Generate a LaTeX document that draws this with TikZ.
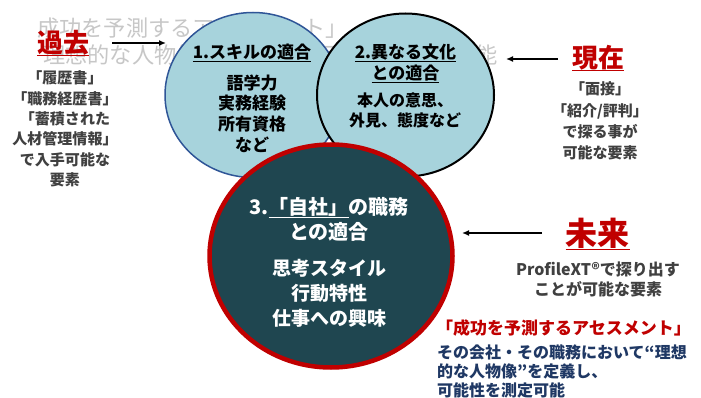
\documentclass[tikz,border=0pt]{standalone}
\usepackage{fontspec}
\setmainfont{Noto Sans CJK JP}
\usepackage{tikz}
\usetikzlibrary{shapes.geometric, arrows.meta}

\definecolor{redtext}{HTML}{C00000}
\definecolor{greytext}{HTML}{404040}
\definecolor{navytext}{HTML}{1F3864}
\definecolor{skyfill}{HTML}{A7D3DC}
\definecolor{skyline}{HTML}{2F5597}
\definecolor{deepteal}{HTML}{1F4650}

\newcommand{\fs}[2]{\fontsize{#1pt}{#2pt}\selectfont}
\newcommand{\ulin}[1]{\setbox0=\hbox{#1}\rlap{\rule[-0.16em]{\wd0}{1.1pt}}\box0}

\begin{document}
\begin{tikzpicture}[x=1pt, y=-1pt,
    blob/.style={ellipse, draw, inner sep=0pt},
    txt/.style 2 args={inner sep=0pt, align=center, font=\bfseries\fs{#1}{#2}},
    ghost/.style={inner sep=0pt, anchor=west, text=black!22, font=\fs{22.2}{27}},
    tip/.style={-{Latex[length=7pt,width=6pt]}, line width=1.4pt}]
          \fill [white] (0,0) rectangle (701,398);
          \useasboundingbox (0,0) rectangle (701,398);
          \node [ghost] (ghostA) at (37,28) {成功を予測するアセスメント」};
          \node [ghost] (ghostB) at (43,55) {理想的な人物像”を定義し、可能性を測定可能};
          \node [blob, fill=skyfill, draw=skyline, line width=1.5pt, minimum width=176, minimum height=165] (skill) at (253,95) {};
          \node [blob, fill=skyfill, line width=2pt, minimum width=177, minimum height=163] (culture) at (405.5,95) {};
          \node [blob, fill=deepteal, draw=redtext, line width=4.5pt, minimum width=243, minimum height=223] (own) at (331,256) {};
          \node [txt={17}{21}] (skillT) at (252,53) {\ulin{1.スキルの適合}};
          \node [txt={17}{20.6}] (skillB) at (252,113.5) {語学力\\実務経験\\所有資格\\など};
          \node [txt={17}{21}] (cultureT) at (405.5,63.5) {\ulin{2.異なる文化}\\\ulin{との適合}};
          \node [txt={16}{20}] (cultureB) at (405,110) {本人の意思、\\外見、態度など};
          \node [txt={20}{25}, text=white] (ownT) at (329,219.5) {3.\ulin{「自社」}の職務\\との適合};
          \node [txt={19}{25}, text=white] (ownB) at (329,293) {思考スタイル\\行動特性\\仕事への興味};
          \node [txt={26}{26}, text=redtext] (past) at (63,43) {\ulin{過去}};
          \node [txt={15}{20.4}, text=greytext] (pastB) at (65,129) {「履歴書」\\「職務経歴書」\\「蓄積された\\人材管理情報」\\で入手可能な\\要素};
          \node [txt={26}{26}, text=redtext] (now) at (598,58) {\ulin{現在}};
          \node [txt={15}{21.3}, text=greytext] (nowB) at (600,121) {「面接」\\「紹介/評判」\\で探る事が\\可能な要素};
          \node [txt={32}{32}, text=redtext] (future) at (597.5,234) {\ulin{未来}};
          \node [txt={16}{19.5}, text=greytext] (futureB) at (598,279.5) {ProfileXT®で探り出す\\ことが可能な要素};
          \node [txt={17}{20}, text=redtext, anchor=west] (assess) at (436,328) {「成功を予測するアセスメント」};
          \node [txt={16}{19}, text=navytext, anchor=west, align=left] (assessB) at (437,371) {その会社・その職務において“理想\\的な人物像”を定義し、\\可能性を測定可能};
          \coordinate (pastA) at (112,43);
          \coordinate (pastZ) at (166,43);
          \coordinate (nowA) at (558,59);
          \coordinate (nowZ) at (506,59);
          \coordinate (futureA) at (542,233);
          \coordinate (futureZ) at (462,233);
          \draw [tip] (pastA) -- (pastZ);
          \draw [tip] (nowA) -- (nowZ);
          \draw [tip] (futureA) -- (futureZ);
        \end{tikzpicture}
\end{document}
